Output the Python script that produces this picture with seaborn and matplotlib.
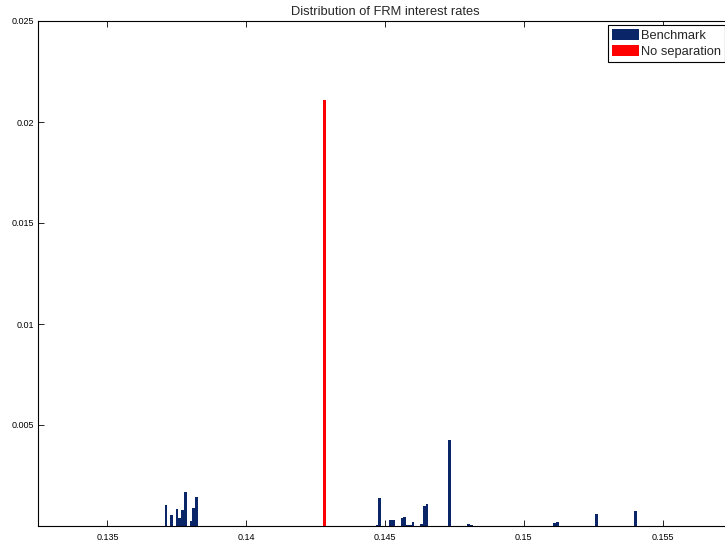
import numpy as np
import pandas as pd
import matplotlib
matplotlib.use("Agg")
import matplotlib.pyplot as plt
from matplotlib.patches import Patch
import seaborn as sns

# Histogram bin centres (interest rate) and their relative frequencies
benchmark_rates = [0.13711, 0.13731, 0.13751, 0.13761, 0.13771, 0.13781,
                   0.13801, 0.13811, 0.13821,
                   0.14471, 0.14481, 0.14521, 0.14531, 0.14561, 0.14571,
                   0.14581, 0.14591, 0.14601, 0.14631, 0.14641, 0.14651,
                   0.14731, 0.14801, 0.14811, 0.15111, 0.15121, 0.15261,
                   0.15401]
benchmark_freq = [0.00104, 0.00054, 0.00084, 0.00041, 0.00079, 0.00167,
                  0.00025, 0.00088, 0.00144,
                  0.00006, 0.00140, 0.00030, 0.00030, 0.00040, 0.00045,
                  0.00005, 0.00005, 0.00020, 0.00010, 0.00100, 0.00109,
                  0.00426, 0.00010, 0.00003, 0.00015, 0.00020, 0.00060,
                  0.00074]
nosep_rates = [0.14281]
nosep_freq = [0.0211]

series_names = ["Benchmark", "No separation"]
series_colors = ["#0b2569", "#ff0000"]

x_ticks = [0.135, 0.14, 0.145, 0.15, 0.155]
x_tick_labels = ["0.135", "0.14", "0.145", "0.15", "0.155"]
y_ticks = [0.005, 0.01, 0.015, 0.02, 0.025]
y_tick_labels = ["0.005", "0.01", "0.015", "0.02", "0.025"]

df = pd.DataFrame({
    "rate": benchmark_rates + nosep_rates,
    "freq": benchmark_freq + nosep_freq,
    "series": [series_names[0]] * len(benchmark_rates)
              + [series_names[1]] * len(nosep_rates),
})

sns.set_style("ticks")
plt.rcParams["font.family"] = ["Liberation Sans", "DejaVu Sans"]

fig = plt.figure(figsize=(7.25, 5.46), dpi=100)
ax = fig.add_axes([38 / 725, 1 - 526 / 546, 694 / 725, 505 / 546])

sns.histplot(data=df, x="rate", weights="freq", hue="series",
             hue_order=series_names, palette=series_colors,
             binwidth=0.0001, binrange=(0.13206, 0.15756),
             multiple="layer", element="bars", fill=True,
             alpha=1.0, linewidth=0, legend=False, ax=ax)

ax.set_xlim(0.1325, 0.1575)
ax.set_ylim(0, 0.025)
ax.set_xticks(x_ticks)
ax.set_xticklabels(x_tick_labels)
ax.set_yticks(y_ticks)
ax.set_yticklabels(y_tick_labels)
ax.set_xlabel("")
ax.set_ylabel("")

for side in ["left", "right", "top", "bottom"]:
    ax.spines[side].set_visible(True)
    ax.spines[side].set_color("black")
    ax.spines[side].set_linewidth(0.8)

ax.tick_params(axis="both", direction="in", length=4.5, width=0.6,
               labelsize=6.5, colors="black", top=True, right=True)
ax.tick_params(axis="x", pad=5)
ax.tick_params(axis="y", pad=2.5)

ax.set_title("Distribution of FRM interest rates", fontsize=9.3, pad=4)

handles = [Patch(facecolor=c, edgecolor="none", label=n)
           for n, c in zip(series_names, series_colors)]
leg = ax.legend(handles=handles, loc="upper left",
                bbox_to_anchor=(607.7 / 725, 1 - 25.3 / 546),
                bbox_transform=fig.transFigure, borderaxespad=0,
                fontsize=9.3, frameon=True, fancybox=False, shadow=False,
                handlelength=2.1, handleheight=0.95, handletextpad=0.2,
                labelspacing=0.22, borderpad=0.3)
leg.get_frame().set_edgecolor("black")
leg.get_frame().set_linewidth(0.8)
leg.get_frame().set_alpha(1)

fig.savefig("out.png", dpi=100)
